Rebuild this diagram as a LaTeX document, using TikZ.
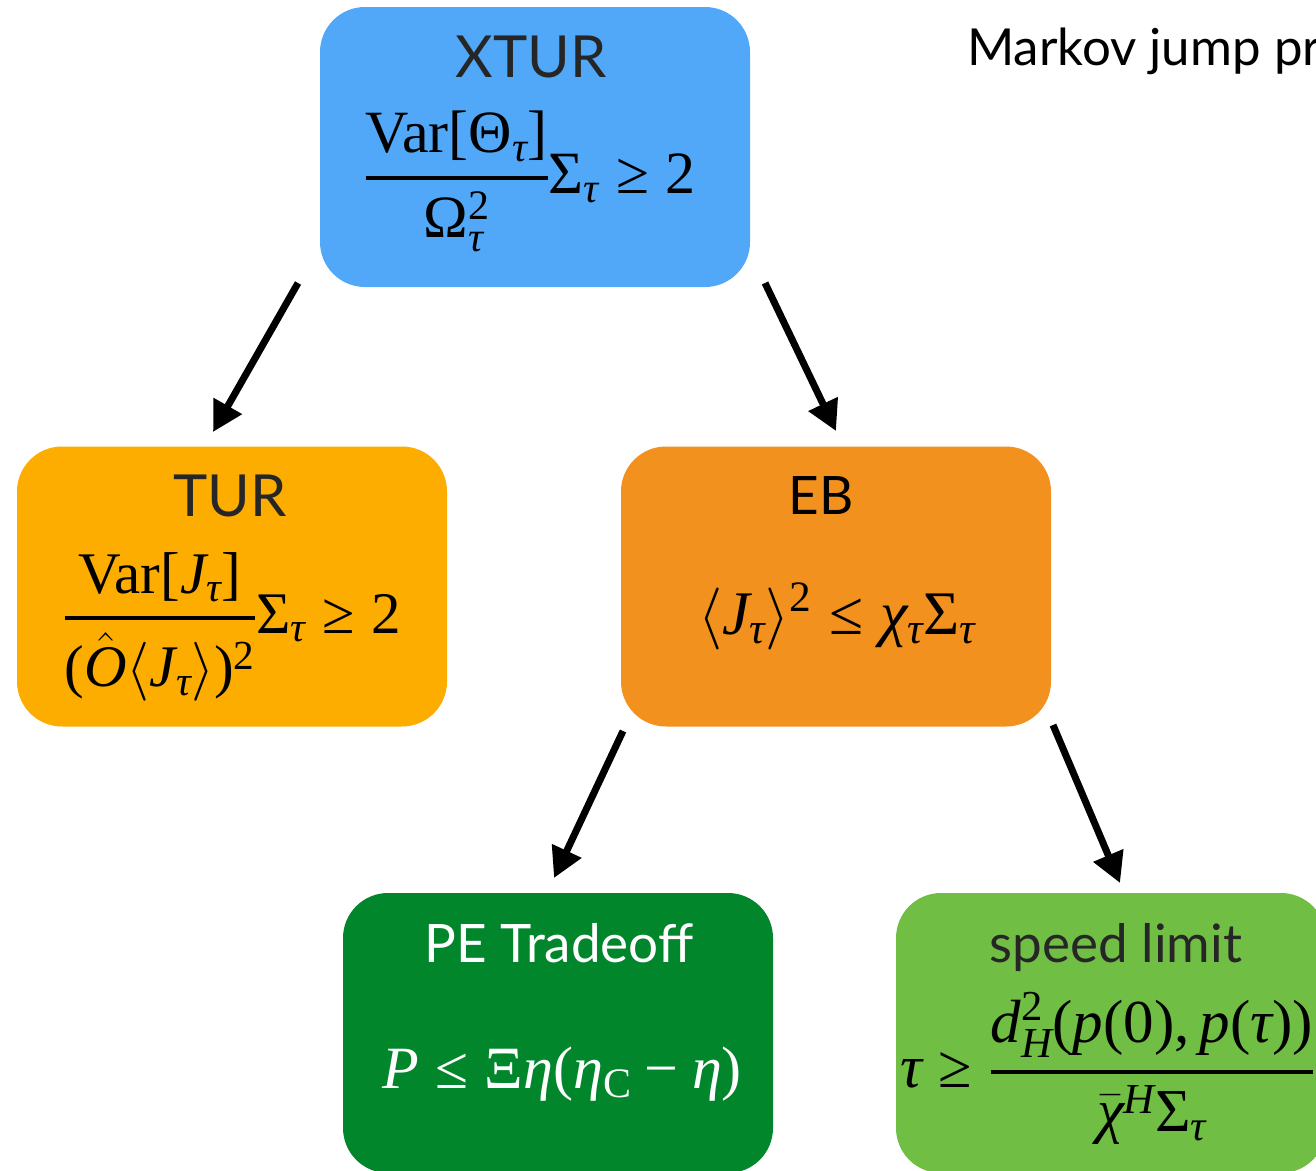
\RequirePackage{fix-cm}
\documentclass[tikz,border=0pt]{standalone}
\usepackage{amsmath}
\usepackage[no-math]{fontspec}
\setmainfont{Liberation Serif}
\setsansfont{Lato}
\DeclareSymbolFont{tmit}{TU}{\rmdefault}{m}{it}
\DeclareSymbolFont{tmup}{TU}{\rmdefault}{m}{n}
\AtBeginDocument{%
\Umathcode`P="7 \symtmit "0050
\Umathcode`J="7 \symtmit "004A
\Umathcode`O="7 \symtmit "004F
\Umathcode`d="7 \symtmit "0064
\Umathcode`H="7 \symtmit "0048
\Umathcode`p="7 \symtmit "0070
\Umathcode`C="7 \symtmup "0043
\Umathcode`0="0 \symtmup "0030
\Umathcode`2="0 \symtmup "0032
\Umathcode`(="4 \symtmup "0028
\Umathcode`)="5 \symtmup "0029
\Umathcode`[="4 \symtmup "005B
\Umathcode`]="5 \symtmup "005D
\Umathcode`,="6 \symtmup "002C
\Umathcode`-="2 \symtmup "2212
\Umathchardef\tau="0 \symtmit "03C4
\Umathchardef\eta="0 \symtmit "03B7
\Umathchardef\chi="0 \symtmit "03C7
\Umathchardef\Sigma="0 \symtmup "03A3
\Umathchardef\Theta="0 \symtmup "0398
\Umathchardef\Omega="0 \symtmup "03A9
\Umathchardef\Xi="0 \symtmup "039E
\Umathchardef\geq="3 \symtmup "2265
\Umathchardef\leq="3 \symtmup "2264
}
\newcommand{\thfrac}[2]{\genfrac{}{}{4pt}{0}{#1}{#2}}
\usetikzlibrary{arrows.meta}
\definecolor{cxtur}{RGB}{82,168,248}
\definecolor{ctur}{RGB}{253,172,0}
\definecolor{ceb}{RGB}{242,145,30}
\definecolor{cpe}{RGB}{2,134,44}
\definecolor{csl}{RGB}{112,190,68}
\definecolor{ttl}{RGB}{38,38,38}
\tikzset{
  panel/.style={rounded corners=45pt, minimum width=430pt, minimum height=280pt, inner sep=0pt, draw=none},
  ttlstyle/.style={anchor=base, inner sep=0pt, font=\sffamily\fontsize{53}{60}\selectfont, text=ttl},
  bigttl/.style={font=\sffamily\fontsize{58}{64}\selectfont},
  eqn/.style={anchor=base, inner sep=0pt},
  link/.style={line width=7pt, -{Triangle[length=30pt,width=31pt]}},
}
\begin{document}
\begin{tikzpicture}[x=1pt,y=-1pt]
\clip (0,0) rectangle (1316,1170);
\fill[white] (0,0) rectangle (1316,1170);
% panels
\node[panel, fill=cxtur] (xtur) at (535,147) {};
\node[panel, fill=ctur] (tur) at (232,586.5) {};
\node[panel, fill=ceb] (eb) at (836,586.5) {};
\node[panel, fill=cpe] (pe) at (558,1033) {};
\node[panel, fill=csl] (sl) at (1111,1033) {};
% titles
\node[ttlstyle, bigttl] (xturt) at (531,77) {XTUR};
\node[ttlstyle, bigttl] (turt) at (230,516) {TUR};
\node[ttlstyle, text=black] (ebt) at (821,514) {EB};
\node[ttlstyle, text=white] (pet) at (559,962) {PE Tradeoff};
\node[ttlstyle] (slt) at (1116,962) {speed limit};
\node[anchor=base west, inner sep=0pt, font=\sffamily\fontsize{51}{58}\selectfont] (mjp) at (967,65) {Markov jump pr};
% formulas
\node[eqn, font=\fontsize{60}{70}\selectfont] (xture) at (530,193) {$\thfrac{\text{Var}[\Theta_\tau]}{\Omega_\tau^2}\Sigma_\tau \geq 2$};
\node[eqn, font=\fontsize{59}{70}\selectfont] (ture) at (232,633) {$\thfrac{\text{Var}[J_\tau]}{(\hat{O}\langle J_\tau\rangle)^2}\Sigma_\tau \geq 2$};
\node[eqn, font=\fontsize{62}{70}\selectfont] (ebe) at (837,634) {$\langle J_\tau\rangle^2 \leq \chi_\tau\Sigma_\tau$};
\node[eqn, text=white, font=\fontsize{60}{70}\selectfont] (pee) at (562,1088) {$P \leq \Xi\eta(\eta_{C} - \eta)$};
\node[eqn, anchor=base west, font=\fontsize{61}{70}\selectfont] (sle) at (900,1087) {$\tau \geq \thfrac{d_H^2(p(0),p(\tau))}{\bar{\chi}^H\Sigma_\tau}$};
% arrows
\coordinate (a1s) at (298,283); \coordinate (a1e) at (213,432);
\coordinate (a2s) at (765,283); \coordinate (a2e) at (836,431);
\coordinate (a3s) at (623,731); \coordinate (a3e) at (554,878);
\coordinate (a4s) at (1053,725); \coordinate (a4e) at (1120,883);
\draw[link] (a1s) -- (a1e);
\draw[link] (a2s) -- (a2e);
\draw[link] (a3s) -- (a3e);
\draw[link] (a4s) -- (a4e);
\end{tikzpicture}
\end{document}
